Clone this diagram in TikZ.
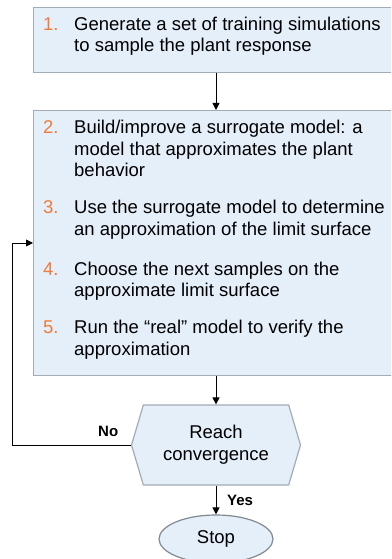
\documentclass[tikz,border=0pt]{standalone}
\usepackage{fontspec}
\setmainfont{Liberation Sans}
\usetikzlibrary{arrows.meta,positioning,shapes.geometric,shapes.symbols}
\definecolor{boxfill}{HTML}{E4EFFA}
\definecolor{boxline}{HTML}{A3ABB5}
\definecolor{numorange}{HTML}{F27A38}
\newcommand{\itm}[1]{\makebox[31pt][l]{\color{numorange}#1}}
\newcommand{\nxt}{\\\hspace*{31pt}}

\begin{document}
\begin{tikzpicture}[x=1pt,y=-1pt,
  every node/.style={font=\fontsize{18.5}{21.7}\selectfont,inner sep=0pt},
  stepbox/.style={draw=boxline,line width=1.4pt,fill=boxfill,anchor=north west,minimum width=363pt},
  steptext/.style={anchor=base west,align=left},
  flow/.style={-{Triangle[length=7pt,width=7pt]},line width=0.9pt,black},
  lbl/.style={font=\fontsize{15}{17}\selectfont\bfseries,anchor=base west}]
  \useasboundingbox (0,0) rectangle (391,559);
  \clip (0,0) rectangle (391,559);
  % Cajas de pasos (la linea base es la de la ultima fila)
  \node[stepbox,minimum height=65pt] (box1) at (33,7) {};
  \node[stepbox,minimum height=265pt] (box2) at (33,110) {};
  \node[steptext] (s1) at (43,52) {\itm{1.}Generate a set of training simulations\nxt to sample the plant response};
  \node[steptext] (s2) at (43,176.7) {\itm{2.}Build/improve a surrogate model: a\nxt model that approximates the plant\nxt behavior};
  \node[steptext] (s3) at (43,235) {\itm{3.}Use the surrogate model to determine\nxt an approximation of the limit surface};
  \node[steptext] (s4) at (43,296.7) {\itm{4.}Choose the next samples on the\nxt approximate limit surface};
  \node[steptext] (s5) at (43,355) {\itm{5.}Run the ``real'' model to verify the\nxt approximation};
  % Decision y fin
  \node[shape=signal,signal to=west and east,signal pointer angle=147,
    draw=boxline,line width=1.2pt,fill=boxfill,minimum width=169pt,minimum height=80pt,
    align=center] (conv) at (216,445) {Reach\\convergence};
  \node[ellipse,draw=boxline!80!black,line width=1.2pt,fill=boxfill,
    minimum width=114pt,minimum height=48pt] (stop) at (216,539) {Stop};
  \coordinate (back) at (12,243);
  % Flechas
  \draw[flow] (box1.south -| conv.north) -- (box2.north -| conv.north);
  \draw[flow] (box2.south -| conv.north) -- (conv.north);
  \draw[flow] (conv.south) -- (stop.north);
  \draw[flow] (conv.west) -- (conv.west -| back) -- (back) -- (back -| box2.west);
  \node[lbl] (no) at (98,436) {No};
  \node[lbl] (yes) at (227,505.6) {Yes};
\end{tikzpicture}
\end{document}
